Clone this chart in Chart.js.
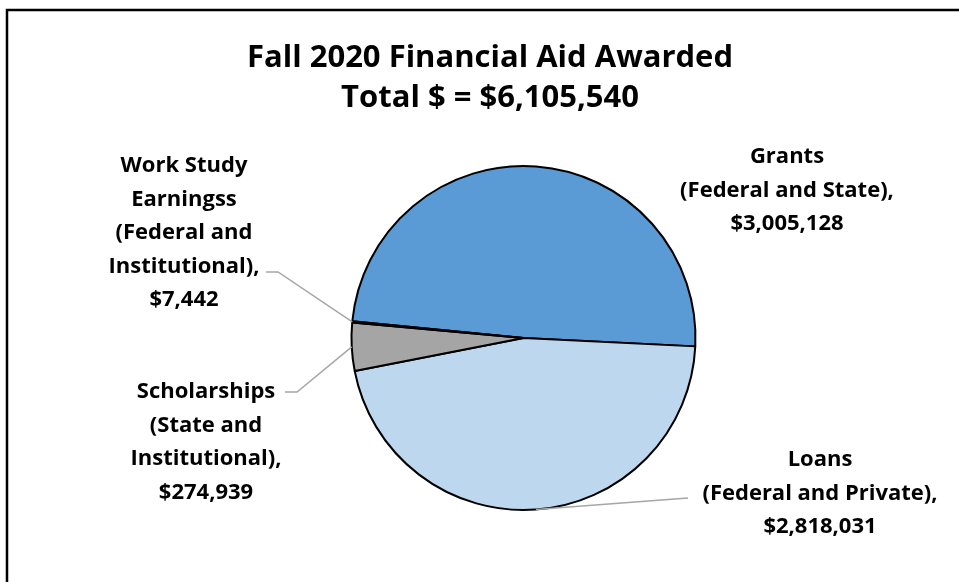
<!DOCTYPE html>
<html>
<head>
<meta charset="utf-8">
<script src="https://cdn.jsdelivr.net/npm/chart.js@4/dist/chart.umd.min.js"></script>
<style>
  html, body { margin: 0; padding: 0; background: #fff; overflow: hidden; }
  #chart { display: block; }
</style>
</head>
<body>
<canvas id="chart" width="959" height="582"></canvas>
<script>
// data
const titleLines = ['Fall 2020 Financial Aid Awarded', 'Total $ = $6,105,540'];
const categories = [
  ['Grants', '(Federal and State),'],
  ['Loans', '(Federal and Private),'],
  ['Scholarships', '(State and', 'Institutional),'],
  ['Work Study', 'Earningss', '(Federal and', 'Institutional),']
];
const amounts = [3005128, 2818031, 274939, 7442];
const sliceColors = ['#5B9BD5', '#BDD7EE', '#A5A5A5', '#264478'];

// label placement: centre x, baseline of first line, and whether a leader line is drawn
const labelSpots = [
  { x: 787, y: 163, leader: null },
  { x: 820, y: 466, leader: { x: 688, y: 498, side: 'right' } },
  { x: 206, y: 398, leader: { x: 285, y: 392, side: 'left' } },
  { x: 184, y: 172, leader: { x: 266, y: 272, side: 'left' } }
];

const money = v => '$' + v.toLocaleString('en-US');
const FONT = '"Open Sans", "Lato", sans-serif';

const labelPlugin = {
  id: 'pieLabels',
  afterDraw(chart) {
    const ctx = chart.ctx;
    const arcs = chart.getDatasetMeta(0).data;
    ctx.save();

    // frame around the chart
    ctx.strokeStyle = '#000';
    ctx.lineWidth = 2.5;
    ctx.strokeRect(7, 10, 1100, 1000);

    // title
    ctx.fillStyle = '#000';
    ctx.textAlign = 'center';
    ctx.textBaseline = 'alphabetic';
    ctx.font = 'bold 31px ' + FONT;
    ctx.fillText(titleLines[0], 490, 67);
    ctx.fillText(titleLines[1], 490, 107);

    // leader lines
    ctx.strokeStyle = '#A6A6A6';
    ctx.lineWidth = 1.5;
    arcs.forEach((arc, i) => {
      const spot = labelSpots[i].leader;
      if (!spot) return;
      const mid = (arc.startAngle + arc.endAngle) / 2;
      const ex = arc.x + Math.cos(mid) * arc.outerRadius;
      const ey = arc.y + Math.sin(mid) * arc.outerRadius;
      ctx.beginPath();
      ctx.moveTo(spot.x, spot.y);
      if (spot.side === 'left') ctx.lineTo(spot.x + 12, spot.y);
      ctx.lineTo(ex, ey);
      ctx.stroke();
    });

    // label text
    ctx.fillStyle = '#000';
    ctx.font = 'bold 22px ' + FONT;
    categories.forEach((lines, i) => {
      const all = lines.concat([money(amounts[i])]);
      all.forEach((t, j) => {
        ctx.fillText(t, labelSpots[i].x, labelSpots[i].y + j * 33.5);
      });
    });
    ctx.restore();
  }
};

new Chart(document.getElementById('chart'), {
  type: 'pie',
  data: {
    labels: categories.map(c => c.join(' ')),
    datasets: [{
      data: amounts,
      backgroundColor: sliceColors,
      borderColor: '#000',
      borderWidth: 2
    }]
  },
  options: {
    responsive: false,
    animation: false,
    devicePixelRatio: 1,
    rotation: 275.6,
    layout: { padding: { left: 350, top: 165, right: 262, bottom: 71 } },
    plugins: {
      legend: { display: false },
      tooltip: { enabled: false }
    }
  },
  plugins: [labelPlugin]
});
</script>
</body>
</html>
